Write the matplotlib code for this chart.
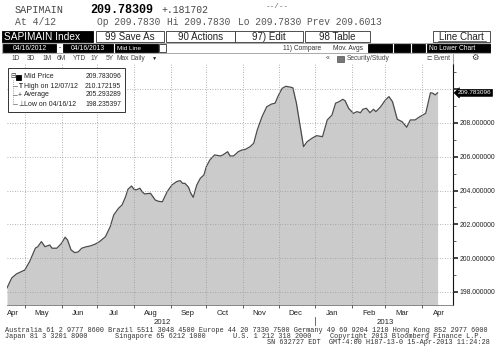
import numpy as np
import matplotlib.pyplot as plt
import matplotlib.dates as mdates
import matplotlib.ticker as mticker
import matplotlib.transforms as mtransforms
from matplotlib.patches import Rectangle

# ----------------- data -----------------
start = np.datetime64('2012-04-16')          # first point of the series
days = [0, 4, 8, 15, 19, 24, 26, 29, 32, 36, 38, 42, 46, 49, 51, 54, 57, 60, 63, 67,
        70, 74, 78, 83, 87, 90, 94, 97, 100, 102, 105, 107, 109, 112, 114, 116, 121, 125, 128, 131,
        135, 139, 143, 146, 148, 150, 153, 155, 157, 160, 163, 166, 168, 171, 175, 180, 182, 186, 188, 191,
        195, 198, 201, 205, 208, 211, 215, 219, 223, 226, 229, 232, 235, 239, 241, 244, 247, 250, 253, 257,
        261, 266, 270, 274, 277, 280, 283, 285, 288, 292, 295, 298, 300, 303, 306, 309, 311, 315, 319, 322,
        325, 329, 333, 337, 340, 344, 348, 353, 357, 359, 361, 363]
level = [198.24, 198.83, 199.07, 199.30, 199.79, 200.60, 200.68, 200.98, 200.68, 200.78,
         200.59, 200.59, 200.88, 201.24, 201.08, 200.49, 200.33, 200.37, 200.59, 200.68,
         200.72, 200.82, 200.98, 201.27, 201.86, 202.56, 202.95, 203.15, 203.64, 204.08,
         204.27, 204.08, 204.04, 204.14, 203.93, 203.80, 203.84, 203.44, 203.36, 203.34,
         203.93, 204.33, 204.53, 204.59, 204.43, 204.43, 204.20, 203.84, 203.60, 204.33,
         204.73, 204.92, 205.41, 205.81, 206.11, 206.05, 206.11, 206.30, 206.05, 206.05,
         206.30, 206.40, 206.44, 206.60, 206.80, 207.59, 208.37, 208.96, 209.12, 209.17,
         209.66, 210.05, 210.17, 210.12, 210.08, 209.17, 207.88, 206.60, 206.89, 207.09,
         207.25, 207.19, 208.18, 208.47, 209.17, 209.26, 209.40, 209.32, 208.87, 208.57,
         208.67, 208.61, 208.81, 208.87, 208.61, 208.81, 208.67, 208.96, 209.36, 209.56,
         209.26, 208.22, 208.08, 207.75, 208.18, 208.18, 208.37, 208.57, 209.79, 209.76,
         209.66, 209.783096]

ticker = 'SAPIMAIN'
last_txt = '209.78309'
change_txt = '+.181702'
mid_price = 209.783096
high_txt, high_val = '12/07/12', 210.172195
average = 205.293289
low_txt, low_val = '04/16/12', 198.235397
y_ticks = [198, 200, 202, 204, 206, 208, 210]

MONO = ['Liberation Mono', 'DejaVu Sans Mono']
NARROW = ['Liberation Sans', 'DejaVu Sans']
SANS = ['Liberation Sans', 'DejaVu Sans']

# ----------------- figure / chart axes -----------------
W, H = 501, 359
fig = plt.figure(figsize=(W / 100, H / 100), dpi=100)
L, R, T, B = 7, 453, 64, 305
ax = fig.add_axes([L / W, 1 - B / H, (R - L) / W, (B - T) / H])

x = start + np.array(days).astype('timedelta64[D]')
ymin, ymax = 197.23, 211.49
ax.fill_between(x, level, ymin, color='#cbcbcb', lw=0, zorder=1)
ax.plot(x, level, color='#4a4a4a', lw=0.9, zorder=2)

ax.set_xlim(start, start + np.timedelta64(376, 'D'))
ax.set_ylim(ymin, ymax)

# month boundaries -> grid, month names in the middle
ax.xaxis.set_major_locator(mdates.MonthLocator())
ax.xaxis.set_major_formatter(mticker.NullFormatter())
months = np.arange('2012-04', '2013-05', dtype='datetime64[M]')
mids = months.astype('datetime64[D]') + np.timedelta64(14, 'D')
mids[0] = start + np.timedelta64(5, 'D')
ax.xaxis.set_minor_locator(mticker.FixedLocator(mdates.date2num(mids)))
ax.xaxis.set_minor_formatter(mdates.DateFormatter('%b'))
ax.tick_params(axis='x', which='major', length=2.5, width=0.6, color='#444', direction='out')
ax.tick_params(axis='x', which='minor', length=0, pad=3.5, labelsize=5.6, labelcolor='#222')
for lab in ax.get_xticklabels(minor=True):
    lab.set_family(NARROW)

ax.yaxis.tick_right()
ax.set_yticks(y_ticks)
ax.yaxis.set_major_formatter(mticker.FuncFormatter(lambda v, p: '' if v > 209 else f'{v:.6f}'))
ax.yaxis.set_minor_locator(mticker.MultipleLocator(1))
ax.tick_params(axis='y', which='major', length=3.5, width=1.2, color='#222', direction='out',
               pad=1.2, labelsize=4.9, labelcolor='#222')
ax.tick_params(axis='y', which='minor', length=2, width=0.6, color='#444', direction='out')
for lab in ax.get_yticklabels():
    lab.set_family(NARROW)

ax.grid(True, which='major', color='#9a9a9a', linestyle=(0, (1, 2)), lw=0.6)
ax.set_axisbelow(False)
for s in ('left', 'top'):
    ax.spines[s].set_visible(False)
ax.spines['right'].set_color('#111')
ax.spines['right'].set_linewidth(0.8)
ax.spines['bottom'].set_color('#777')
ax.spines['bottom'].set_linewidth(0.6)

# year labels under the months, with a divider at the year change
xt = mtransforms.blended_transform_factory(ax.transData, ax.transAxes)
ax.text(np.datetime64('2012-08-25'), -0.072, '2012', transform=xt, ha='center', va='center',
        fontsize=5.6, family=NARROW, color='#222')
ax.text(np.datetime64('2013-03-01'), -0.072, '2013', transform=xt, ha='center', va='center',
        fontsize=5.6, family=NARROW, color='#222')
ax.plot([np.datetime64('2013-01-01')] * 2, [-0.05, -0.085], transform=xt, color='#555',
        lw=0.6, clip_on=False)

# last price tag on the right axis
yt = mtransforms.blended_transform_factory(ax.transAxes, ax.transData)
ax.text(1.011, level[-1], f'{mid_price:.6f}', transform=yt, ha='left', va='center',
        fontsize=4.6, family=NARROW, color='white', clip_on=False,
        bbox=dict(boxstyle='larrow,pad=0.15', fc='black', ec='black', lw=0.5))

# ----------------- overlay for the terminal header / legend / footer -----------------
ov = fig.add_axes([0, 0, 1, 1])
ov.set_xlim(0, W)
ov.set_ylim(H, 0)
ov.axis('off')
ov.patch.set_visible(False)
ov.set_zorder(3)


def box(x0, y0, x1, y1, fc='white', ec='black', lw=0.6):
    ov.add_patch(Rectangle((x0, y0), x1 - x0, y1 - y0, fc=fc, ec=ec, lw=lw))


def txt(x, y, s, size=6.0, color='#222', family=None, **kw):
    ov.text(x, y, s, fontsize=size, color=color, family=family or MONO,
            va='center', ha=kw.pop('ha', 'left'), **kw)


# row 1 / row 2 : quote line
txt(15, 10, ticker, 7.3, '#444')
txt(90, 10, last_txt, 8.5, 'black', weight='bold')
txt(161, 10, change_txt, 7.0, '#444')
txt(266, 7, '--/--', 5.5, '#666')
txt(15, 22, 'At 4/12', 7.0, '#555')
txt(97, 22, 'Op 209.7830', 6.9, '#555')
txt(167, 22, 'Hi 209.7830', 6.9, '#555')
txt(238, 22, 'Lo 209.7830', 6.9, '#555')
txt(307, 22, 'Prev 209.6013', 6.9, '#555')

# row 3 : buttons
box(2, 31, 93, 42, fc='black')
txt(4, 36.5, 'SAPIMAIN Index', 7.3, 'white', SANS)
for x0, x1, lab in [(96, 164, '99 Save As'), (166, 235, '90 Actions'),
                    (235, 303, '97) Edit'), (305, 370, '98 Table')]:
    box(x0, 31, x1, 42, ec='#333')
    txt((x0 + x1) / 2, 36.5, lab, 7.0, '#222', SANS, ha='center')
box(433, 31, 490, 42, ec='#333')
txt(461.5, 36.5, 'Line Chart', 7.0, '#222', SANS, ha='center')
ov.plot([438, 486], [41, 41], color='#333', lw=0.5)

# row 4 : date range etc.
box(2, 43, 490, 53, ec='#888', lw=0.5)
box(3, 44, 56, 52, fc='black')
txt(29.5, 48, '04/16/2012', 4.9, 'white', NARROW, ha='center')
txt(59.5, 48, '-', 5.0, '#222', SANS, ha='center')
box(63, 44, 113, 52, fc='black')
txt(88, 48, '04/16/2013', 4.9, 'white', NARROW, ha='center')
box(115, 44, 158, 52, fc='black')
txt(117, 48, 'Mid Line', 4.6, 'white', NARROW)
box(159, 44, 166, 52, ec='#333')
txt(283, 48, '11) Compare', 4.8, '#333', NARROW)
txt(333, 48, 'Mov. Avgs', 4.8, '#333', NARROW)
for x0, x1 in [(368, 392), (394, 410), (412, 425)]:
    box(x0, 44, x1, 52, fc='black')
box(427, 44, 490, 52, fc='black')
txt(429, 48, 'No Lower Chart', 4.8, 'white', NARROW)

# row 5 : ranges
for xx, lab in [(12, '1D'), (27, '3D'), (43, '1M'), (57, '6M'), (73, 'YTD'), (91, '1Y'),
                (106, '5Y'), (117, 'Max'), (131, 'Daily')]:
    txt(xx, 58.5, lab, 4.8, '#444', NARROW)
txt(152, 58.5, '▼', 3.8, '#222', SANS)
txt(326, 58.5, '«', 5.0, '#444', SANS)
box(337, 55.5, 344, 61.5, fc='#777', ec='#333', lw=0.4)
txt(347, 58.5, 'Security/Study', 4.8, '#444', NARROW)
txt(426, 58.5, '⊏', 4.8, '#444', SANS)
txt(434, 58.5, 'Event', 4.8, '#444', NARROW)
txt(471, 58.5, '⚙', 6.0, '#333', SANS)
ov.plot([453, 453], [54, 64], color='#777', lw=0.5)

# legend box
box(8, 68, 125, 112, ec='#333', lw=0.7)
txt(10, 77, '⊟', 4.8, '#333', SANS)
box(16, 74.5, 21, 79.5, fc='black')
ov.plot([13, 13], [80, 104], color='#666', lw=0.5, ls=':')
for yy in (86, 95, 104):
    ov.plot([13, 17], [yy, yy], color='#666', lw=0.5)
txt(18.5, 86, 'T', 4.8, '#333', SANS, weight='bold')
txt(18, 95, '+', 4.8, '#333', SANS)
txt(18.5, 104, '⊥', 4.8, '#333', SANS)
rows = [('Mid Price', mid_price), (f'High on {high_txt}', high_val),
        ('Average', average), (f'Low on {low_txt}', low_val)]
for i, (lab, val) in enumerate(rows):
    yy = 77 + 9 * i
    txt(24, yy, lab, 5.0, '#222', NARROW)
    txt(121, yy, f'{val:.6f}', 4.9, '#222', NARROW, ha='right')

# footer
txt(5, 331, 'Australia 61 2 9777 8600 Brazil 5511 3048 4500 Europe 44 20 7330 7500 '
            'Germany 49 69 9204 1210 Hong Kong 852 2977 6000', 4.95, '#333')
txt(5, 337, 'Japan 81 3 3201 8900', 4.95, '#333')
txt(115, 337, 'Singapore 65 6212 1000', 4.95, '#333')
txt(233, 337, 'U.S. 1 212 318 2000', 4.95, '#333')
txt(330, 337, 'Copyright 2013 Bloomberg Finance L.P.', 4.95, '#333')
txt(267, 343, 'SN 632727 EDT  GMT-4:00 H187-13-0 15-Apr-2013 11:24:28', 4.95, '#333')

fig.savefig('out.png', dpi=100, facecolor='white')
